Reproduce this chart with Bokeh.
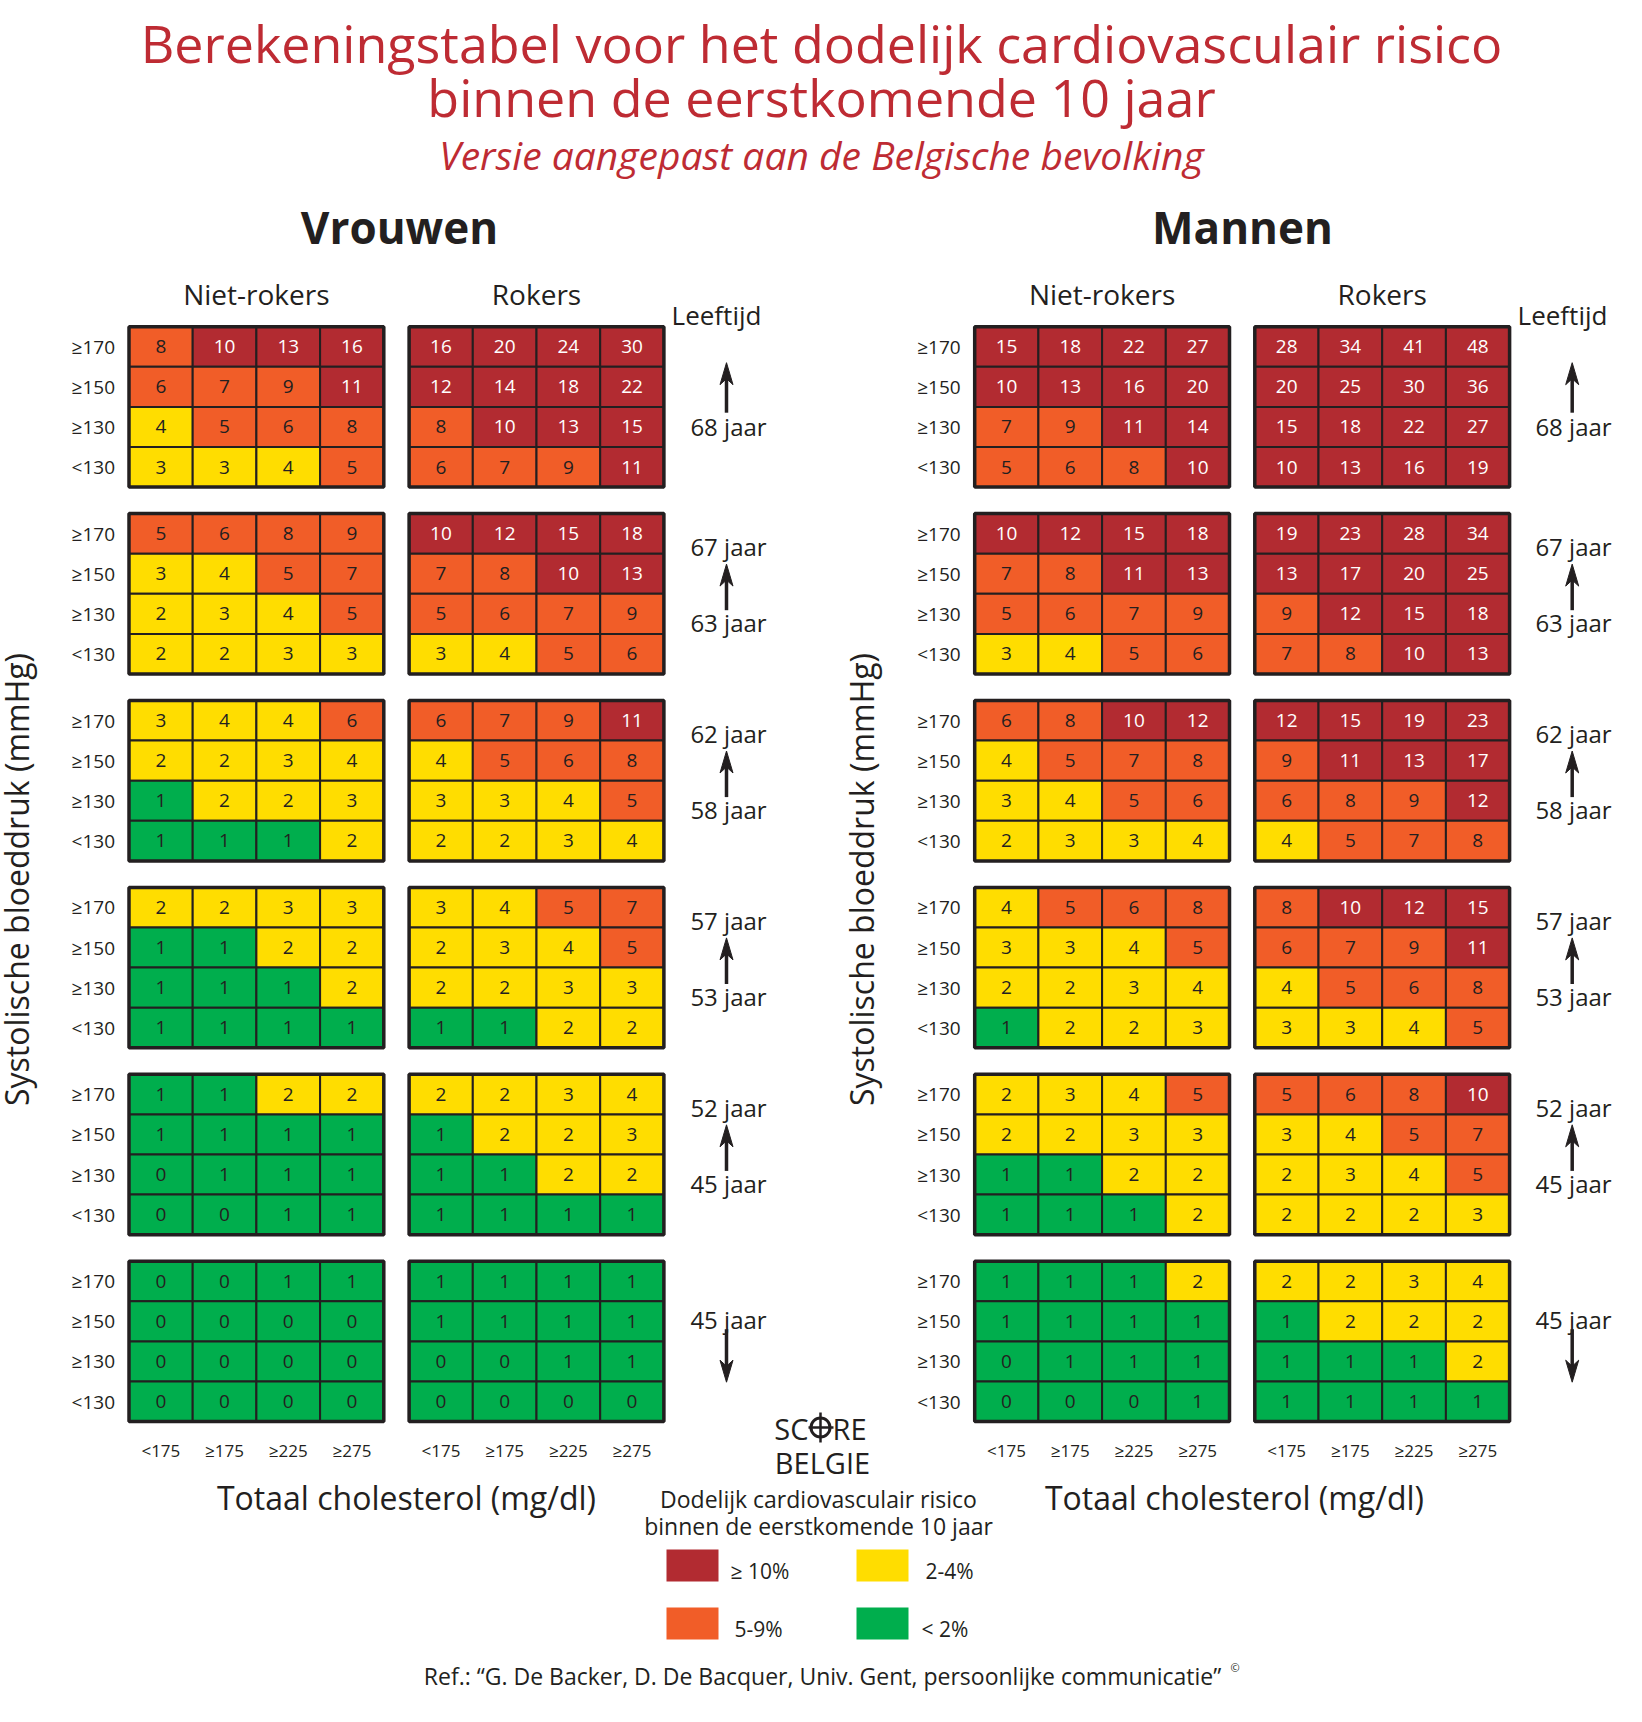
import numpy as np
from bokeh.plotting import figure
from bokeh.models import Range1d, ColumnDataSource
from bokeh.core.properties import value
from bokeh.embed import file_html
from bokeh.resources import INLINE

# ---------------- data ----------------
title_line1 = "Berekeningstabel voor het dodelijk cardiovasculair risico"
title_line2 = "binnen de eerstkomende 10 jaar"
subtitle = "Versie aangepast aan de Belgische bevolking"
sex_labels = ["Vrouwen", "Mannen"]
smoke_labels = ["Niet-rokers", "Rokers"]
sbp_labels = ["\u2265170", "\u2265150", "\u2265130", "<130"]
chol_labels = ["<175", "\u2265175", "\u2265225", "\u2265275"]
age_upper = ["68 jaar", "67 jaar", "62 jaar", "57 jaar", "52 jaar", "45 jaar"]
age_lower = ["", "63 jaar", "58 jaar", "53 jaar", "45 jaar", ""]
legend_labels = ["\u2265 10%", "5-9%", "2-4%", "< 2%"]
risk_colors = ["#B22B31", "#F15D28", "#FFDD00", "#00AE4D"]

# rows: SBP >=170, >=150, >=130, <130 ; cols: chol <175, >=175, >=225, >=275
women_nonsmoker = [
    [[8, 10, 13, 16], [6, 7, 9, 11], [4, 5, 6, 8], [3, 3, 4, 5]],
    [[5, 6, 8, 9], [3, 4, 5, 7], [2, 3, 4, 5], [2, 2, 3, 3]],
    [[3, 4, 4, 6], [2, 2, 3, 4], [1, 2, 2, 3], [1, 1, 1, 2]],
    [[2, 2, 3, 3], [1, 1, 2, 2], [1, 1, 1, 2], [1, 1, 1, 1]],
    [[1, 1, 2, 2], [1, 1, 1, 1], [0, 1, 1, 1], [0, 0, 1, 1]],
    [[0, 0, 1, 1], [0, 0, 0, 0], [0, 0, 0, 0], [0, 0, 0, 0]],
]
women_smoker = [
    [[16, 20, 24, 30], [12, 14, 18, 22], [8, 10, 13, 15], [6, 7, 9, 11]],
    [[10, 12, 15, 18], [7, 8, 10, 13], [5, 6, 7, 9], [3, 4, 5, 6]],
    [[6, 7, 9, 11], [4, 5, 6, 8], [3, 3, 4, 5], [2, 2, 3, 4]],
    [[3, 4, 5, 7], [2, 3, 4, 5], [2, 2, 3, 3], [1, 1, 2, 2]],
    [[2, 2, 3, 4], [1, 2, 2, 3], [1, 1, 2, 2], [1, 1, 1, 1]],
    [[1, 1, 1, 1], [1, 1, 1, 1], [0, 0, 1, 1], [0, 0, 0, 0]],
]
men_nonsmoker = [
    [[15, 18, 22, 27], [10, 13, 16, 20], [7, 9, 11, 14], [5, 6, 8, 10]],
    [[10, 12, 15, 18], [7, 8, 11, 13], [5, 6, 7, 9], [3, 4, 5, 6]],
    [[6, 8, 10, 12], [4, 5, 7, 8], [3, 4, 5, 6], [2, 3, 3, 4]],
    [[4, 5, 6, 8], [3, 3, 4, 5], [2, 2, 3, 4], [1, 2, 2, 3]],
    [[2, 3, 4, 5], [2, 2, 3, 3], [1, 1, 2, 2], [1, 1, 1, 2]],
    [[1, 1, 1, 2], [1, 1, 1, 1], [0, 1, 1, 1], [0, 0, 0, 1]],
]
men_smoker = [
    [[28, 34, 41, 48], [20, 25, 30, 36], [15, 18, 22, 27], [10, 13, 16, 19]],
    [[19, 23, 28, 34], [13, 17, 20, 25], [9, 12, 15, 18], [7, 8, 10, 13]],
    [[12, 15, 19, 23], [9, 11, 13, 17], [6, 8, 9, 12], [4, 5, 7, 8]],
    [[8, 10, 12, 15], [6, 7, 9, 11], [4, 5, 6, 8], [3, 3, 4, 5]],
    [[5, 6, 8, 10], [3, 4, 5, 7], [2, 3, 4, 5], [2, 2, 2, 3]],
    [[2, 2, 3, 4], [1, 2, 2, 2], [1, 1, 1, 2], [1, 1, 1, 1]],
]

# ---------------- layout ----------------
W, H = 1626, 1706
FONT = value("Open Sans")
DARK = "#231F20"
RED = "#BE2B33"

p = figure(width=W, height=H, x_range=Range1d(0, W), y_range=Range1d(H, 0),
           output_backend="svg", toolbar_location=None,
           x_axis_location=None, y_axis_location=None, min_border=0)
p.grid.visible = False
p.outline_line_color = None
p.background_fill_color = "white"
p.border_fill_color = "white"


def txt(x, y, s, size, color=DARK, align="center", style="normal", angle=0.0, baseline="middle"):
    p.text(x=[x], y=[y], text=[s], text_font=FONT, text_font_size=f"{size}px",
           text_color=color, text_align=align, text_baseline=baseline,
           text_font_style=style, angle=angle)


def risk_color(v):
    if v >= 10:
        return risk_colors[0]
    if v >= 5:
        return risk_colors[1]
    if v >= 2:
        return risk_colors[2]
    return risk_colors[3]


cell_w, cell_h = 63.7, 40.1
group_y0 = [326.2 + g * 186.9 for g in range(6)]
panels = [
    (women_nonsmoker, 128.5),
    (women_smoker, 408.6),
    (men_nonsmoker, 974.2),
    (men_smoker, 1254.3),
]

cells = dict(left=[], right=[], top=[], bottom=[], fill=[], xc=[], yc=[], label=[], tc=[])
blocks = dict(left=[], right=[], top=[], bottom=[])
for table, x0 in panels:
    for g, grid in enumerate(table):
        y0 = group_y0[g]
        for r, row in enumerate(grid):
            for c, v in enumerate(row):
                l = x0 + c * cell_w
                t = y0 + r * cell_h
                cells["left"].append(l)
                cells["right"].append(l + cell_w)
                cells["top"].append(t)
                cells["bottom"].append(t + cell_h)
                cells["fill"].append(risk_color(v))
                cells["xc"].append(l + cell_w / 2)
                cells["yc"].append(t + cell_h / 2)
                cells["label"].append(str(v))
                cells["tc"].append("white" if v >= 10 else DARK)
        blocks["left"].append(x0)
        blocks["right"].append(x0 + 4 * cell_w)
        blocks["top"].append(y0)
        blocks["bottom"].append(y0 + 4 * cell_h)

src = ColumnDataSource(cells)
p.quad(left="left", right="right", top="top", bottom="bottom", fill_color="fill",
       line_color=DARK, line_width=2, source=src)
p.quad(left="left", right="right", top="top", bottom="bottom", fill_color=None,
       line_color=DARK, line_width=3.5, source=ColumnDataSource(blocks))
p.text(x="xc", y="yc", text="label", text_color="tc", text_font=FONT,
       text_font_size="19px", text_align="center", text_baseline="middle", source=src)

# titles
txt(821, 42, title_line1, 52, RED)
txt(821, 96, title_line2, 52, RED)
txt(821, 154, subtitle, 39, RED, style="italic")

# per-sex headers and axes
sex_setup = [
    (0, 399, 128.5, 408.6, 716, 726, 728, 16, 406),
    (1, 1242, 974.2, 1254.3, 1562, 1571.7, 1573, 861, 1234),
]
for si, hx, nx0, rx0, lx, ax, agex, ytx, xtx in sex_setup:
    txt(hx, 226, sex_labels[si], 44, DARK, style="bold")
    txt(nx0 + 2 * cell_w, 293, smoke_labels[0], 28)
    txt(rx0 + 2 * cell_w, 293, smoke_labels[1], 28)
    txt(lx, 314, "Leeftijd", 26)
    # row labels
    for g in range(6):
        for r in range(4):
            txt(nx0 - 14, group_y0[g] + (r + 0.5) * cell_h, sbp_labels[r], 19, align="right")
    # column labels
    for x0 in (nx0, rx0):
        for c in range(4):
            txt(x0 + (c + 0.5) * cell_w, 1450, chol_labels[c], 17)
    txt(xtx, 1497, "Totaal cholesterol (mg/dl)", 32)
    txt(ytx, 879, "Systolische bloeddruk (mmHg)", 32, angle=np.pi / 2)

    # age labels and arrows
    seg = dict(x0=[], y0=[], x1=[], y1=[])
    heads_x, heads_y = [], []
    for g in range(6):
        y0 = group_y0[g]
        if g == 0:
            txt(agex, y0 + 100, age_upper[g], 24)
            tip, base = y0 + 36, y0 + 86
        elif g == 5:
            txt(agex, y0 + 58, age_upper[g], 24)
            tip, base = y0 + 121, y0 + 68
        else:
            txt(agex, y0 + 33, age_upper[g], 24)
            txt(agex, y0 + 109, age_lower[g], 24)
            tip, base = y0 + 50.5, y0 + 96.6
        d = 1 if base > tip else -1
        seg["x0"].append(ax); seg["y0"].append(base)
        seg["x1"].append(ax); seg["y1"].append(tip + d * 10)
        heads_x.append([ax, ax - 6.5, ax, ax + 6.5])
        heads_y.append([tip, tip + d * 22, tip + d * 16, tip + d * 22])
    p.segment(x0="x0", y0="y0", x1="x1", y1="y1", source=ColumnDataSource(seg),
              line_color=DARK, line_width=3.5)
    p.patches(xs=heads_x, ys=heads_y, fill_color=DARK, line_color=DARK, line_width=1)

# SCORE BELGIE logo
txt(808, 1428, "SC", 29, align="right")
txt(832, 1428, "RE", 29, align="left")
p.scatter(x=[820], y=[1427], marker="circle", size=19, fill_color=None, line_color=DARK, line_width=3)
p.segment(x0=[820, 808], y0=[1412, 1427], x1=[820, 833], y1=[1442, 1427], line_color=DARK, line_width=2.5)
txt(822, 1462, "BELGIE", 29)

# legend
txt(818, 1498, "Dodelijk cardiovasculair risico", 23)
txt(818, 1525, "binnen de eerstkomende 10 jaar", 23)
leg_x = [666, 666, 856, 856]
leg_y = [1549, 1607, 1549, 1607]
leg_lx = [730, 734, 925, 921]
for i in range(4):
    p.quad(left=[leg_x[i]], right=[leg_x[i] + 52], top=[leg_y[i]], bottom=[leg_y[i] + 32],
           fill_color=risk_colors[i], line_color=None)
    txt(leg_lx[i], leg_y[i] + 21, legend_labels[i], 21, align="left")

# reference
txt(822, 1675, "Ref.: \u201cG. De Backer, D. De Bacquer, Univ. Gent, persoonlijke communicatie\u201d", 23)
txt(1230, 1667, "\u00a9", 11, align="left")

open("out.html", "w").write(file_html(p, INLINE))
